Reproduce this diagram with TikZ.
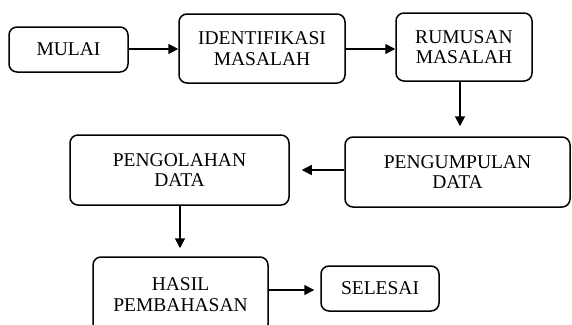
\documentclass[tikz,border=0pt]{standalone}
\usepackage{fontspec}
\setmainfont{Liberation Serif}
\usetikzlibrary{arrows.meta}
\begin{document}
\begin{tikzpicture}[x=1pt,y=-1pt,
  stepbox/.style={draw,line width=1.5pt,rounded corners=8pt,align=center,inner sep=0pt,
    font=\fontsize{19.5}{20.5}\selectfont},
  arr/.style={line width=1.5pt,-{Triangle[length=10pt,width=10pt]}}]
\useasboundingbox (0,0) rectangle (572,324);
\clip (0,0) rectangle (572,324);
\node[stepbox,minimum width=119pt,minimum height=45pt] (mulai) at (68.5,49.5) {MULAI};
\node[stepbox,minimum width=166pt,minimum height=69pt] (ident) at (262,48.5) {IDENTIFIKASI\\MASALAH};
\node[stepbox,minimum width=136pt,minimum height=68pt] (rumus) at (464,47) {RUMUSAN\\MASALAH};
\node[stepbox,minimum width=225pt,minimum height=70pt] (kumpul) at (457.5,172) {PENGUMPULAN\\DATA};
\node[stepbox,minimum width=219pt,minimum height=70pt] (olah) at (179.5,170) {PENGOLAHAN\\DATA};
\node[stepbox,minimum width=175pt,minimum height=75pt] (hasil) at (180.5,294.5) {HASIL\\PEMBAHASAN};
\node[stepbox,minimum width=118pt,minimum height=45pt] (selesai) at (380,288.5) {SELESAI};
\draw[arr] ([yshift=0.5pt]mulai.east) -- ([yshift=0.5pt]mulai.east -| ident.west);
\draw[arr] ([yshift=-0.5pt]ident.east) -- ([yshift=-0.5pt]ident.east -| rumus.west);
\draw[arr,shorten >=10pt] ([xshift=-4pt]rumus.south) -- ([xshift=-4pt]rumus.south |- kumpul.north);
\draw[arr,shorten >=12pt] ([yshift=2pt]kumpul.west) -- ([yshift=2pt]kumpul.west -| olah.east);
\draw[arr,shorten >=8pt] ([xshift=0.5pt]olah.south) -- ([xshift=0.5pt]olah.south |- hasil.north);
\draw[arr,shorten >=6pt] ([yshift=4.5pt]hasil.east) -- ([yshift=4.5pt]hasil.east -| selesai.west);
\end{tikzpicture}
\end{document}
